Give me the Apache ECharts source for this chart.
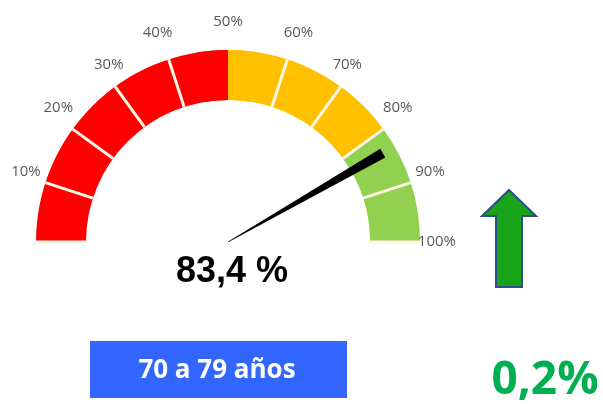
<!DOCTYPE html>
<html>
<head>
<meta charset="utf-8">
<script src="https://cdn.jsdelivr.net/npm/echarts@6/dist/echarts.min.js"></script>
<style>
html, body { margin: 0; padding: 0; background: #fff; }
#main { width: 603px; height: 404px; }
</style>
</head>
<body>
<div id="main"></div>
<script>
// valor del indicador y rangos de color
var gaugeValue = 83.4;
var tickLabels = ['10%', '20%', '30%', '40%', '50%', '60%', '70%', '80%', '90%', '100%'];
var bandStops = [0.5, 0.8, 1];
var bandColors = ['#FF0000', '#FFC000', '#92D050'];
var groupLabel = '70 a 79 años';
var changeValue = 0.2;

function fmt(v) {
    return v.toFixed(1).replace('.', ',');
}

var center = [228, 242];
var radius = 192;

var option = {
    animation: false,
    series: [
        {
            type: 'gauge',
            center: center,
            radius: radius,
            startAngle: 180,
            endAngle: 0,
            min: 0,
            max: 100,
            splitNumber: 10,
            axisLine: {
                lineStyle: {
                    width: 50,
                    color: bandStops.map(function (s, i) { return [s, bandColors[i]]; })
                }
            },
            splitLine: {
                distance: -50,
                length: 50,
                lineStyle: { color: '#FFF6E8', width: 3 }
            },
            axisTick: { show: false },
            axisLabel: {
                distance: -36,
                color: '#595959',
                fontSize: 15,
                fontFamily: 'Open Sans',
                formatter: function (v) {
                    return v === 0 ? '' : tickLabels[Math.round(v / 10) - 1];
                }
            },
            pointer: {
                icon: 'path://M0,0 L10,0 L5.4,100 L4.6,100 Z',
                length: '93%',
                width: 10,
                offsetCenter: [0, 0],
                itemStyle: { color: '#000' }
            },
            anchor: { show: false },
            title: { show: false },
            detail: {
                offsetCenter: [4, 30],
                color: '#000',
                fontSize: 36,
                fontWeight: 'bold',
                fontFamily: 'Liberation Sans',
                formatter: function (v) { return fmt(v) + ' %'; }
            },
            data: [{ value: gaugeValue }]
        },
        {
            // sin separador donde el rojo pasa a amarillo (50%)
            type: 'gauge',
            center: center,
            radius: radius,
            startAngle: 99,
            endAngle: 81,
            min: 45,
            max: 55,
            axisLine: {
                lineStyle: {
                    width: 50,
                    color: [[0.5, bandColors[0]], [1, bandColors[1]]]
                }
            },
            splitLine: { show: false },
            axisTick: { show: false },
            axisLabel: { show: false },
            pointer: { show: false },
            anchor: { show: false },
            title: { show: false },
            detail: { show: false },
            data: []
        }
    ],
    graphic: [
        {
            type: 'rect',
            shape: { x: 90, y: 341, width: 257, height: 57 },
            style: { fill: '#3366FF' }
        },
        {
            type: 'text',
            x: 217, y: 371,
            style: {
                text: groupLabel,
                fill: '#fff',
                font: 'bold 26px "Open Sans"',
                align: 'center',
                verticalAlign: 'middle'
            }
        },
        {
            type: 'polygon',
            shape: {
                points: [[509, 190], [536, 216], [522, 216], [522, 287], [496, 287], [496, 216], [482, 216]]
            },
            style: { fill: '#18A418', stroke: '#2E4D8F', lineWidth: 2 }
        },
        {
            type: 'text',
            x: 545, y: 381,
            style: {
                text: fmt(changeValue) + '%',
                fill: '#00B050',
                font: 'bold 46px "Open Sans"',
                align: 'center',
                verticalAlign: 'middle'
            }
        }
    ]
};

echarts.init(document.getElementById('main')).setOption(option);
</script>
</body>
</html>
